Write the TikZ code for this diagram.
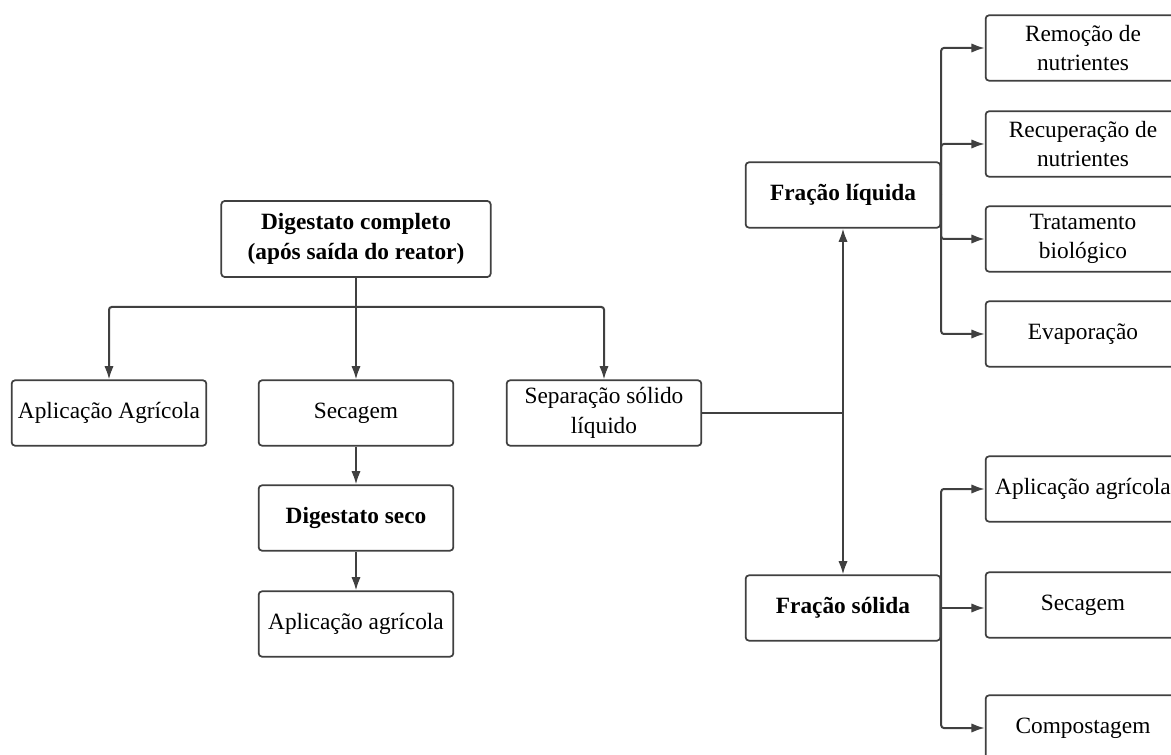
\documentclass[tikz,border=0pt]{standalone}
\usepackage{fontspec}
\setmainfont{Liberation Serif}
\usetikzlibrary{arrows.meta}
\tikzset{
  box/.style={draw=black!75, line width=1.3pt, rounded corners=2.5pt, fill=white,
    minimum width=146pt, minimum height=49pt, align=center, inner sep=2pt,
    font=\fontsize{17.5}{22}\selectfont},
  bigbox/.style={box, minimum width=202pt, minimum height=57pt},
  link/.style={draw=black!75, line width=1.5pt, rounded corners=2pt,
    -{Latex[length=10pt,width=7pt]}}
}
\begin{document}
\begin{tikzpicture}[x=0.75pt, y=-0.75pt]
      \useasboundingbox (0,0) rectangle (1171,755);
      \clip (0,0) rectangle (1171,755);
      \fill[white] (0,0) rectangle (1171,755);
      \path
        (356,239) node[bigbox] (dc){\textbf{Digestato completo}\\\textbf{(após saída do reator)}}
        (109,413) node[box] (aa){Aplicação Agrícola}
        (356,413) node[box] (sec){Secagem}
        (604,413) node[box] (sep){Separação sólido\\líquido}
        (356,518) node[box] (dseco){\textbf{Digestato seco}}
        (356,624) node[box] (aplag){Aplicação agrícola}
        (843,195) node[box] (fl){\textbf{Fração líquida}}
        (843,608) node[box] (fs){\textbf{Fração sólida}}
        (1083,48) node[box] (r1){Remoção de\\nutrientes}
        (1083,144) node[box] (r2){Recuperação de\\nutrientes}
        (1083,239) node[box] (r3){Tratamento\\biológico}
        (1083,334) node[box] (r4){Evaporação}
        (1083,489) node[box] (s1){Aplicação agrícola}
        (1083,605) node[box] (s2){Secagem}
        (1083,728) node[box] (s3){Compostagem};
      \coordinate (j) at (356,307);
      \coordinate (k) at (843,413);
      \begin{scope}[link]
        \draw[-] (dc) -- (j);
        \draw (j) -| (aa);
        \draw (j) -- (sec);
        \draw (j) -| (sep);
        \draw (sec) -- (dseco);
        \draw (dseco) -- (aplag);
        \draw[-] (sep) -- (k);
        \draw (k) -- (fl);
        \draw (k) -- (fs);
        \draw (fl.east) |- (r1);
        \draw (fl.east) |- (r2);
        \draw (fl.east) |- (r3);
        \draw (fl.east) |- (r4);
        \draw (fs.east) |- (s1);
        \draw (fs.east) -- (s2.west |- fs.east);
        \draw (fs.east) |- (s3);
      \end{scope}
    \end{tikzpicture}
\end{document}
